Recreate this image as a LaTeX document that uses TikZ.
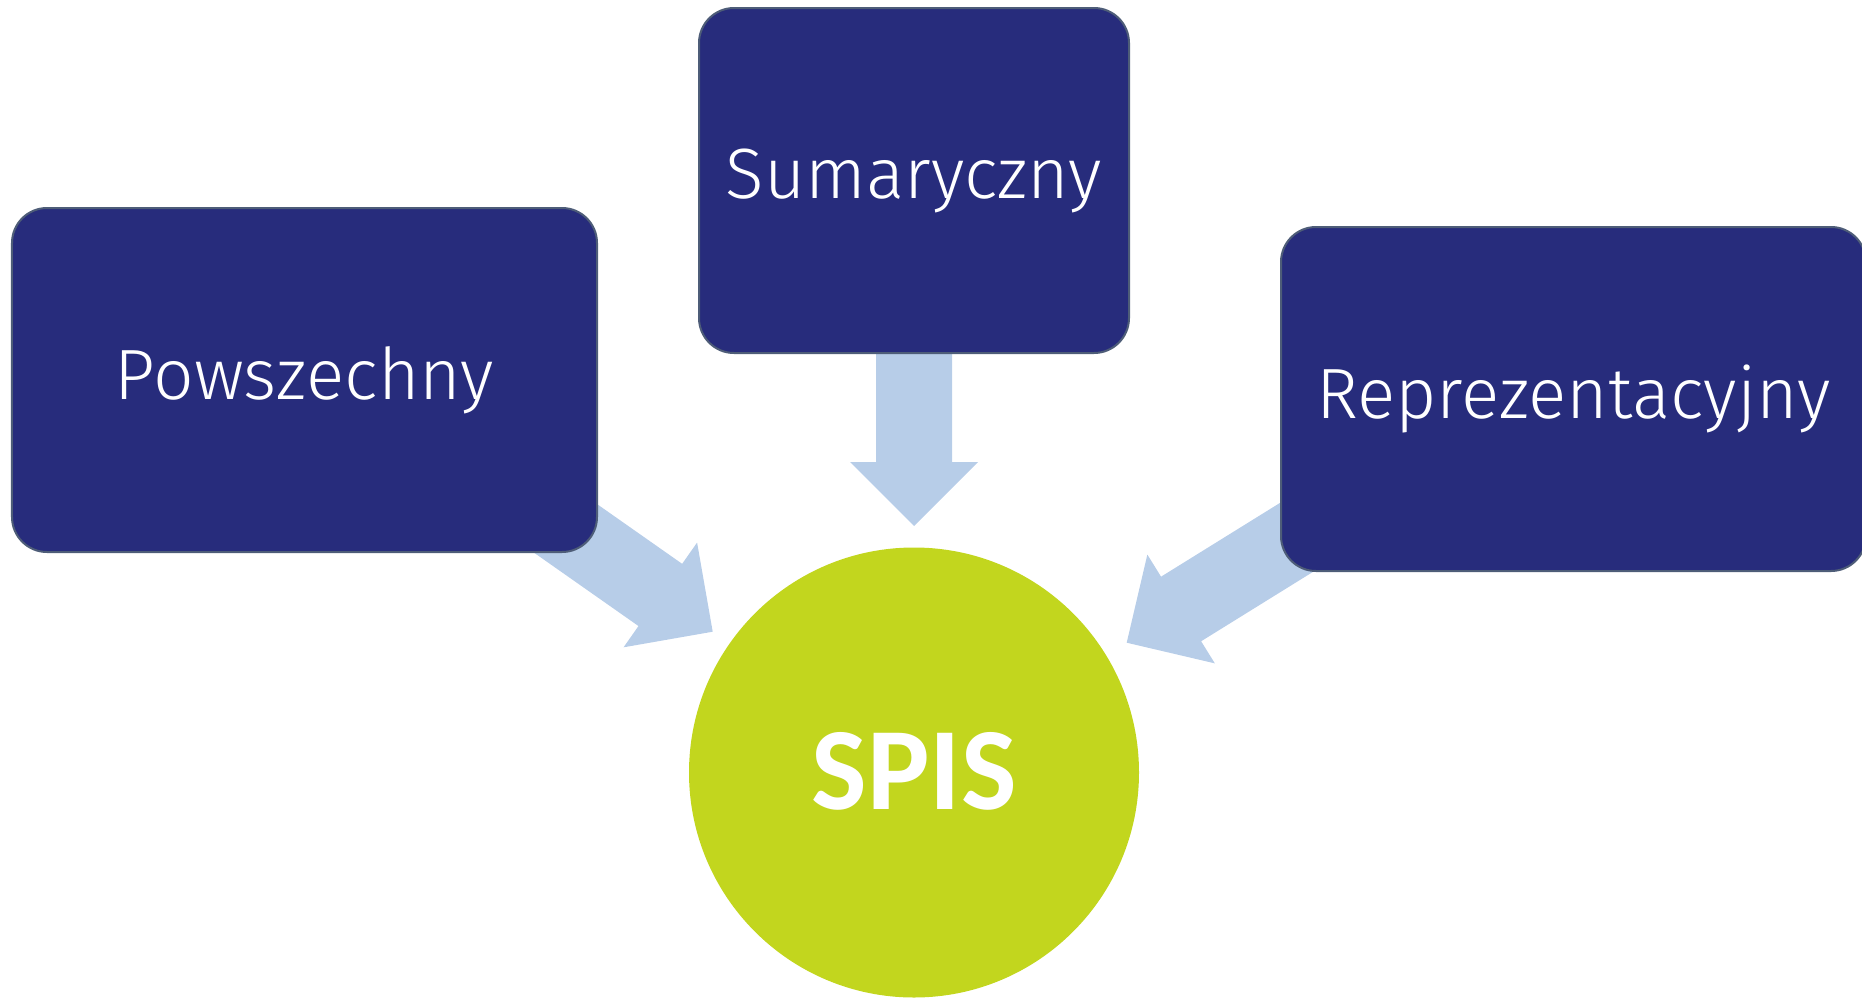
\documentclass[tikz,border=0pt]{standalone}
\usepackage{fontspec}
\setmainfont{Fira Sans}[UprightFont=* Light]
\newfontfamily\spisfont{Carlito}
\usetikzlibrary{calc}
\definecolor{boxnavy}{HTML}{272C7C}
\definecolor{boxedge}{HTML}{4E5D78}
\definecolor{arrowblue}{HTML}{B7CDE8}
\definecolor{spisgreen}{HTML}{C2D61E}
\pgfdeclarelayer{bg}
\pgfsetlayers{bg,main}
\tikzset{
  catbox/.style={rectangle, rounded corners=35bp, fill=boxnavy, draw=boxedge,
    line width=2bp, text=white, inner sep=0pt,
    font=\fontsize{71.5}{84}\selectfont},
  spisnode/.style={circle, fill=spisgreen, draw=none, inner sep=0pt,
    minimum size=450bp, text=white,
    font=\spisfont\bfseries\fontsize{118}{140}\selectfont},
  blockarrow/.style={fill=arrowblue, draw=none}
}
\begin{document}
\begin{tikzpicture}[x=1bp,y=-1bp]
\useasboundingbox (0,0) rectangle (1862,998);
\clip (0,0) rectangle (1862,998);

% nodes
\node[catbox, minimum width=430bp, minimum height=345bp] (sum) at (914,180.5) {Sumaryczny};
\node[catbox, minimum width=585bp, minimum height=344bp] (pow) at (304.5,380) {Powszechny};
\node[catbox, minimum width=585bp, minimum height=344bp] (rep) at (1573.5,399) {Reprezentacyjny};
\node[spisnode] (spis) at (914,772.5) {\raisebox{4bp}{SPIS}};

% arrow ends
\coordinate (sumtail) at (914,300);
\coordinate (sumtip)  at (914,526);
\coordinate (powtail) at (508,488);
\coordinate (powtip)  at (712.7,631.7);
\coordinate (reptail) at (1339,511);
\coordinate (reptip)  at (1126.7,642.7);

\begin{pgfonlayer}{bg}
\foreach \s/\t in {sumtail/sumtip, powtail/powtip, reptail/reptip}{
  \coordinate (\s h) at ($(\t)!64bp!(\s)$);
  \fill[blockarrow]
    ($(\s)!38bp!90:(\t)$) --
    ($(\s h)!38bp!90:(\t)$) --
    ($(\s h)!64bp!90:(\t)$) --
    (\t) --
    ($(\s h)!64bp!-90:(\t)$) --
    ($(\s h)!38bp!-90:(\t)$) --
    ($(\s)!38bp!-90:(\t)$) -- cycle;
}
\end{pgfonlayer}
\end{tikzpicture}
\end{document}
